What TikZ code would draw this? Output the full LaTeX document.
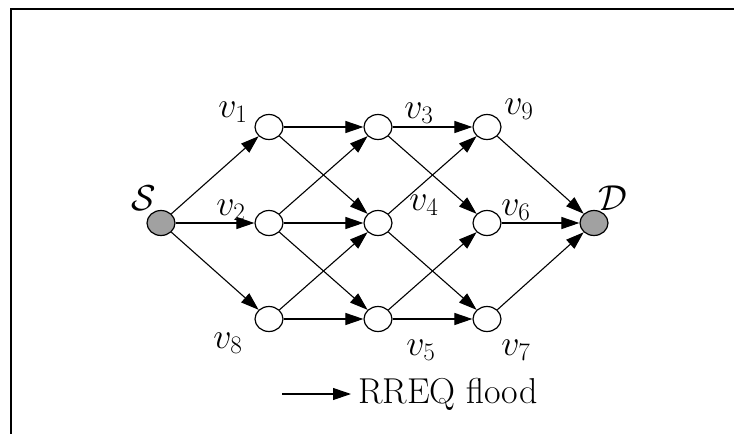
\RequirePackage{fix-cm}
\documentclass[tikz,border=0pt]{standalone}
\usetikzlibrary{shapes.geometric,arrows.meta}
\begin{document}
\begin{tikzpicture}[x=1pt,y=-1pt,
  vnode/.style={draw,ellipse,line width=1.2pt,minimum width=28pt,minimum height=25pt,inner sep=0pt,fill=white},
  endnode/.style={vnode,fill=black!37},
  lbl/.style={inner sep=0pt,font=\fontsize{36}{42}\selectfont},
  edge/.style={line width=1.1pt,-{Triangle[length=18pt,width=12pt]}},
  frame/.style={line width=2pt}]
\useasboundingbox (0,0) rectangle (734,434);
\coordinate (f1) at (734,9);
\coordinate (f2) at (11,9);
\coordinate (f3) at (11,434);
\draw[frame] (f1) -- (f2) -- (f3);
% nodes
\node[endnode] (S) at (161,223) {};
\node[vnode] (v1) at (269,127) {};
\node[vnode] (v2) at (269,223) {};
\node[vnode] (v8) at (269,319) {};
\node[vnode] (v3) at (378,127) {};
\node[vnode] (v4) at (378,223) {};
\node[vnode] (v5) at (378,319) {};
\node[vnode] (v9) at (487,127) {};
\node[vnode] (v6) at (487,223) {};
\node[vnode] (v7) at (487,319) {};
\node[endnode] (D) at (594,223) {};
% labels
\node[lbl] (lS) at (144,198) {$\mathcal{S}$};
\node[lbl] (lD) at (613,198) {$\mathcal{D}$};
\node[lbl] (l1) at (233,112) {$v_1$};
\node[lbl] (l2) at (231,210) {$v_2$};
\node[lbl] (l8) at (228,343) {$v_8$};
\node[lbl] (l3) at (419,113) {$v_3$};
\node[lbl] (l4) at (424,205) {$v_4$};
\node[lbl] (l5) at (421,350) {$v_5$};
\node[lbl] (l9) at (519,109) {$v_9$};
\node[lbl] (l6) at (516,210) {$v_6$};
\node[lbl] (l7) at (516,350) {$v_7$};
% edges
\draw[edge] (S) -- (v1);
\draw[edge] (S) -- (v2);
\draw[edge] (S) -- (v8);
\draw[edge] (v1) -- (v3);
\draw[edge] (v1) -- (v4);
\draw[edge] (v2) -- (v3);
\draw[edge] (v2) -- (v4);
\draw[edge] (v2) -- (v5);
\draw[edge] (v8) -- (v4);
\draw[edge] (v8) -- (v5);
\draw[edge] (v3) -- (v9);
\draw[edge] (v3) -- (v6);
\draw[edge] (v4) -- (v9);
\draw[edge] (v4) -- (v7);
\draw[edge] (v5) -- (v6);
\draw[edge] (v5) -- (v7);
\draw[edge] (v9) -- (D);
\draw[edge] (v6) -- (D);
\draw[edge] (v7) -- (D);
% legend
\node[lbl,anchor=west] (leg) at (358,394) {RREQ flood};
\coordinate (la) at (282,394);
\draw[edge,shorten >=7pt] (la) -- (leg.west);
\end{tikzpicture}
\end{document}
